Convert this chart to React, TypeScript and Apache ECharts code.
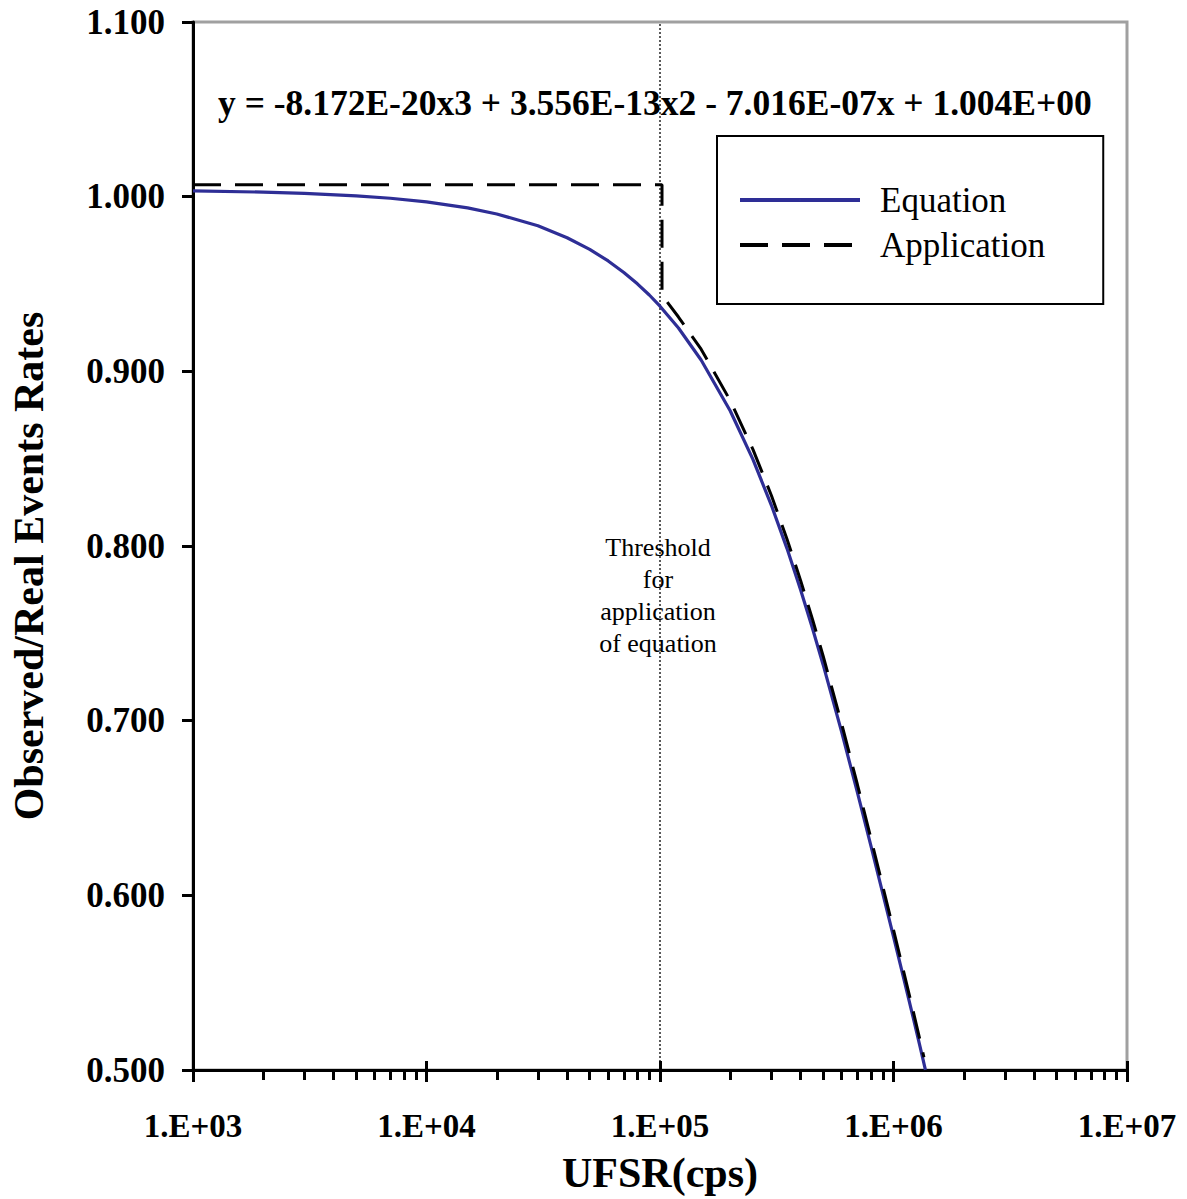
import React, { useEffect, useRef } from "react";
import * as echarts from "echarts";

// Equation curve
const eqX = [1e3, 2e3, 3e3, 5e3, 7e3, 1e4, 1.5e4, 2e4, 3e4, 4e4, 5e4, 6e4, 7e4, 8e4, 9e4, 1e5, 1.2e5, 1.5e5, 2e5, 2.5e5, 3e5, 3.5e5, 4e5, 4.5e5, 5e5, 6e5, 7e5, 8e5, 9e5, 1e6, 1.1e6, 1.2e6, 1.3e6, 1.37e6];
const eqY = [1.0033, 1.0026, 1.0019, 1.0005, 0.9991, 0.997, 0.9936, 0.9901, 0.9833, 0.9765, 0.9698, 0.9632, 0.9566, 0.9501, 0.9437, 0.9373, 0.9248, 0.9065, 0.8773, 0.8496, 0.8233, 0.7985, 0.775, 0.7528, 0.7319, 0.6934, 0.6591, 0.6285, 0.601, 0.5763, 0.5538, 0.5329, 0.5133, 0.5001];

// Application (dashed) curve
const appX = [1e3, 1.02e5, 1.02e5, 1.2e5, 1.5e5, 2e5, 2.5e5, 3e5, 3.5e5, 4e5, 4.5e5, 5e5, 6e5, 7e5, 8e5, 9e5, 1e6, 1.1e6, 1.2e6, 1.3e6, 1.35e6];
const appY = [1.0068, 1.0068, 0.9437, 0.9311, 0.9127, 0.8832, 0.8553, 0.8289, 0.8039, 0.7803, 0.758, 0.7369, 0.6981, 0.6636, 0.6327, 0.6051, 0.5802, 0.5575, 0.5366, 0.5168, 0.5073];

// Threshold vertical line
const thrX = [1e5, 1e5];
const thrY = [0.5, 1.1];

const seriesNames = ["Equation", "Application"];
const xAxisTitle = "UFSR(cps)";
const yAxisTitle = "Observed/Real Events Rates";
const equationText = "y = -8.172E-20x3 + 3.556E-13x2 - 7.016E-07x + 1.004E+00";
const thresholdText = "Threshold\nfor\napplication\nof equation";

const FONT = "'Liberation Serif', 'Times New Roman', serif";

const pairs = (xs: number[], ys: number[]) => xs.map((x, i) => [x, ys[i]]);

export default function App() {
  const ref = useRef<HTMLDivElement>(null);
  useEffect(() => {
    if (!ref.current) return;
    const chart = echarts.init(ref.current, undefined, { renderer: "svg" });
    const xLabel = (v: number) =>
      "1.E+" + String(Math.round(Math.log10(v))).padStart(2, "0");
    const option: any = {
      animation: false,
      backgroundColor: "#ffffff",
      grid: {
        left: 193,
        top: 22,
        width: 934,
        height: 1053,
        show: true,
        borderColor: "#a0a0a0",
        borderWidth: 3,
        backgroundColor: "transparent",
      },
      legend: {
        data: seriesNames,
        orient: "vertical",
        left: 717,
        top: 136,
        padding: [46, 58, 41, 21],
        borderColor: "#000",
        borderWidth: 2,
        borderRadius: 0,
        backgroundColor: "#fff",
        itemWidth: 120,
        itemHeight: 2,
        itemGap: 9,
        lineStyle: { width: 4 },
        textStyle: {
          fontSize: 35,
          fontFamily: FONT,
          color: "#000",
          lineHeight: 36,
          padding: [0, 0, 0, 15],
        },
      },
      xAxis: [
        {
          type: "log",
          logBase: 10,
          min: 1e3,
          max: 1e7,
          name: xAxisTitle,
          nameLocation: "middle",
          nameGap: 82,
          nameTextStyle: { fontSize: 42, fontWeight: "bold", fontFamily: FONT, color: "#000" },
          axisLine: { show: true, lineStyle: { color: "#000", width: 3 } },
          axisTick: { show: true, inside: false, length: 12, lineStyle: { color: "#000", width: 3 } },
          minorTick: { show: true, splitNumber: 9, length: 10, lineStyle: { color: "#000", width: 3 } },
          splitLine: { show: false },
          minorSplitLine: { show: false },
          axisLabel: {
            margin: 39,
            fontSize: 33,
            fontWeight: "bold",
            fontFamily: FONT,
            color: "#000",
            formatter: xLabel,
          },
        },
        {
          type: "log",
          logBase: 10,
          min: 1e3,
          max: 1e7,
          position: "bottom",
          axisLine: { show: false },
          axisTick: { show: true, inside: true, length: 9, lineStyle: { color: "#000", width: 3 } },
          axisLabel: { show: false },
          splitLine: { show: false },
        },
      ],
      yAxis: {
        type: "value",
        min: 0.5,
        max: 1.1,
        interval: 0.1,
        name: yAxisTitle,
        nameLocation: "middle",
        nameGap: 143,
        nameTextStyle: {
          fontSize: 42,
          fontWeight: "bold",
          fontFamily: FONT,
          color: "#000",
          padding: [0, 40, 0, 0],
        },
        axisLine: { show: true, lineStyle: { color: "#000", width: 3 } },
        axisTick: { show: true, inside: false, length: 11, lineStyle: { color: "#000", width: 3 } },
        splitLine: { show: false },
        axisLabel: {
          margin: 28,
          fontSize: 35,
          fontWeight: "bold",
          fontFamily: FONT,
          color: "#000",
          formatter: (v: number) => v.toFixed(3),
        },
      },
      series: [
        {
          name: "threshold",
          type: "line",
          data: pairs(thrX, thrY),
          symbol: "none",
          lineStyle: { color: "#000", width: 1.3, type: [2, 2] },
          silent: true,
          z: 1,
        },
        {
          name: seriesNames[0],
          type: "line",
          data: pairs(eqX, eqY),
          symbol: "none",
          showSymbol: false,
          smooth: false,
          color: "#333399",
          lineStyle: { color: "#2e2e96", width: 3.2 },
          z: 2,
        },
        {
          name: seriesNames[1],
          type: "line",
          data: pairs(appX, appY),
          symbol: "none",
          showSymbol: false,
          color: "#000",
          lineStyle: { color: "#000", width: 3, type: [28, 14] },
          z: 3,
        },
      ],
      graphic: [
        {
          type: "text",
          left: 218,
          top: 85,
          style: {
            text: equationText,
            font: `bold 35.5px ${FONT}`,
            fill: "#000",
          },
        },
        {
          type: "text",
          x: 658,
          y: 531,
          style: {
            text: thresholdText,
            font: `26px ${FONT}`,
            fill: "#000",
            align: "center",
            verticalAlign: "top",
            lineHeight: 32,
          },
        },
      ],
    };
    chart.setOption(option);
    return () => chart.dispose();
  }, []);
  return (
    <div
      ref={ref}
      style={{ position: "fixed", left: 0, top: 0, width: 1187, height: 1199, background: "#fff" }}
    />
  );
}
